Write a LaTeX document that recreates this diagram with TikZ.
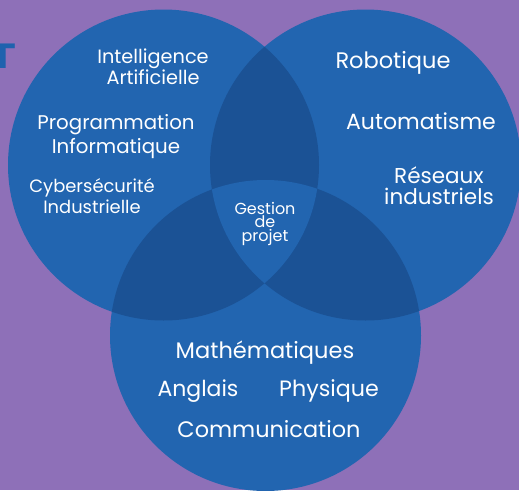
\documentclass[tikz,border=0pt]{standalone}
\usepackage{fontspec}
\setmainfont{Poppins}
\definecolor{bg}{HTML}{8E70B8}
\definecolor{cblue}{HTML}{2265B0}
\definecolor{cdark}{HTML}{1B5295}
\definecolor{ttl}{HTML}{1F62AE}
\begin{document}
\begin{tikzpicture}[x=1pt,y=-1pt,
  lbl/.style={text=white, inner sep=0pt, anchor=base},
  f/.style={font=\fontsize{#1}{#1}\selectfont}]
\useasboundingbox (0,0) rectangle (519,490);
\clip (0,0) rectangle (519,490);
\fill[bg] (0,0) rectangle (519,490);
\def\rad{155.5}
\coordinate (cL) at (163.5,165);
\coordinate (cR) at (365.5,165);
\coordinate (cB) at (265.5,335.5);
% partial title glyph (cut by the left edge, as in the reference)
\node[text=ttl, inner sep=0pt, anchor=base, xscale=1.4, font=\fontsize{35}{35}\selectfont\bfseries] (title) at (1.5,68) {T};
% circles
\fill[cblue] (cL) circle[radius=\rad];
\fill[cblue] (cR) circle[radius=\rad];
\fill[cblue] (cB) circle[radius=\rad];
\begin{scope}\clip (cL) circle[radius=\rad]; \fill[cdark] (cR) circle[radius=\rad];\end{scope}
\begin{scope}\clip (cL) circle[radius=\rad]; \fill[cdark] (cB) circle[radius=\rad];\end{scope}
\begin{scope}\clip (cR) circle[radius=\rad]; \fill[cdark] (cB) circle[radius=\rad];\end{scope}
\begin{scope}\clip (cL) circle[radius=\rad]; \clip (cR) circle[radius=\rad]; \fill[cblue] (cB) circle[radius=\rad];\end{scope}
% labels
\node[lbl,f=19.3] (ia1) at (153,63) {Intelligence};
\node[lbl,f=19.3] (ia2) at (153,84) {Artificielle};
\node[lbl,f=19.8] (pi1) at (116,129) {Programmation};
\node[lbl,f=19.8] (pi2) at (116,153) {Informatique};
\node[lbl,f=17.9] (cy1) at (92,192) {Cybersécurité};
\node[lbl,f=17.9] (cy2) at (92,213) {Industrielle};
\node[lbl,f=22.5] (rob) at (393,68) {Robotique};
\node[lbl,f=22] (aut) at (421,129) {Automatisme};
\node[lbl,f=21.5] (re1) at (439,183) {Réseaux};
\node[lbl,f=21.5] (re2) at (439,204) {industriels};
\node[lbl, align=center, font=\fontsize{16}{13.5}\selectfont] (gp) at (265,241) {Gestion\\de\\projet};
\node[lbl,f=22.5] (mat) at (265,358) {Mathématiques};
\node[lbl,f=22] (ang) at (198,396) {Anglais};
\node[lbl,f=22.2] (phy) at (329,396) {Physique};
\node[lbl,f=22.4] (com) at (269,437) {Communication};
\end{tikzpicture}
\end{document}
